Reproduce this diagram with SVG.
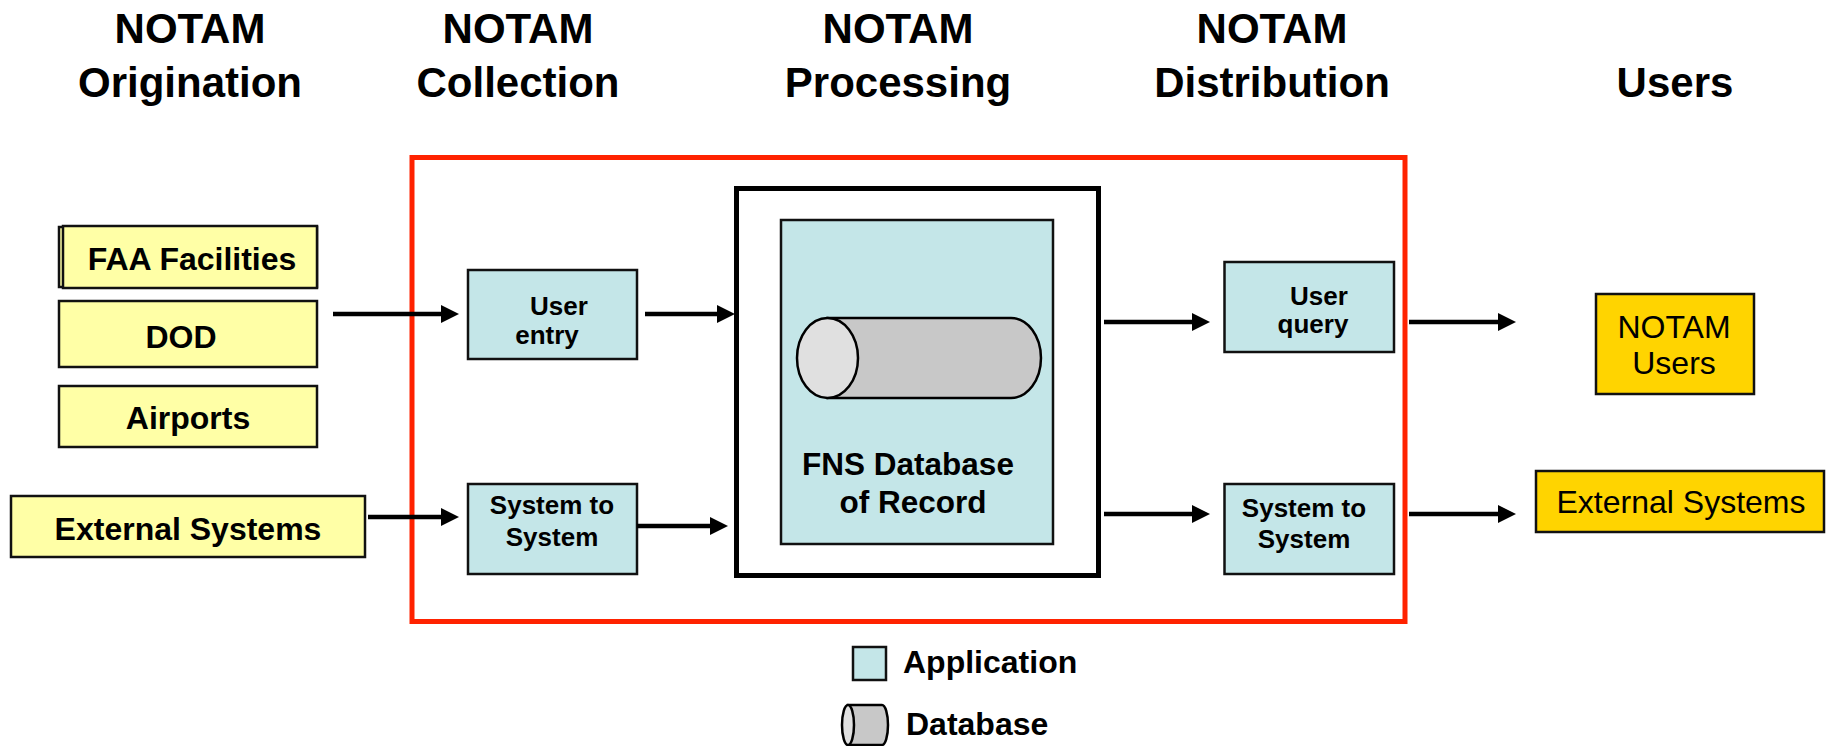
<svg xmlns="http://www.w3.org/2000/svg" width="1826" height="746" viewBox="0 0 1826 746">
<style>
text{font-family:"Liberation Sans",Arial,sans-serif;fill:#000}
.hdr{font-size:42px;font-weight:bold;text-anchor:middle}
.org{font-size:32px;font-weight:bold;text-anchor:middle}
.fns{font-size:31.5px;font-weight:bold;text-anchor:middle}
.app{font-size:26px;font-weight:bold;text-anchor:middle}
.usr{font-size:32px;text-anchor:middle}
.leg{font-size:32px;font-weight:bold}
.ybox{fill:#FFFFA6;stroke:#111;stroke-width:2.5}
.gbox{fill:#FFD400;stroke:#111;stroke-width:2.5}
.cbox{fill:#C4E6E8;stroke:#111;stroke-width:2.5}
.conn line{stroke:#000;stroke-width:4.5;marker-end:url(#ah)}
</style>
<defs>
<marker id="ah" markerUnits="userSpaceOnUse" markerWidth="18" markerHeight="18" refX="8" refY="9" orient="auto">
<path d="M0,0 L18,9 L0,18 Z" fill="#000"/>
</marker>
</defs>
<rect width="1826" height="746" fill="#fff"/>
<g id="headers">
<text class="hdr" x="190" y="43">NOTAM</text>
<text class="hdr" x="190" y="97">Origination</text>
<text class="hdr" x="518" y="43">NOTAM</text>
<text class="hdr" x="518" y="97">Collection</text>
<text class="hdr" x="898" y="43">NOTAM</text>
<text class="hdr" x="898" y="97">Processing</text>
<text class="hdr" x="1272" y="43">NOTAM</text>
<text class="hdr" x="1272" y="97">Distribution</text>
<text class="hdr" x="1675" y="97">Users</text>
</g>
<g id="fns-boundary">
<rect x="412" y="157.5" width="993" height="464" fill="none" stroke="#FF2200" stroke-width="5"/>
</g>
<g id="faa-facilities">
<rect class="ybox" x="59" y="227" width="258" height="60"/>
<rect class="ybox" x="63" y="226" width="254" height="62"/>
<text class="org" x="192" y="270">FAA Facilities</text>
</g>
<g id="dod">
<rect class="ybox" x="59" y="301" width="258" height="66"/>
<text class="org" x="181" y="348">DOD</text>
</g>
<g id="airports">
<rect class="ybox" x="59" y="386" width="258" height="61"/>
<text class="org" x="188" y="429">Airports</text>
</g>
<g id="external-systems-in">
<rect class="ybox" x="11" y="496" width="354" height="61"/>
<text class="org" x="188" y="540">External Systems</text>
</g>
<g id="user-entry">
<rect class="cbox" x="468" y="270" width="169" height="89"/>
<text class="app" x="559" y="315">User</text>
<text class="app" x="547" y="344">entry</text>
</g>
<g id="system-to-system-in">
<rect class="cbox" x="468" y="484" width="169" height="90"/>
<text class="app" x="552" y="514">System to</text>
<text class="app" x="552" y="546">System</text>
</g>
<g id="fns-database">
<rect x="736.5" y="188.5" width="362" height="387" fill="#fff" stroke="#000" stroke-width="5"/>
<rect class="cbox" x="781" y="220" width="272" height="324"/>
<path d="M827.5,318 L1011,318 A30,40 0 0 1 1011,398 L827.5,398 Z" fill="#C8C8C8" stroke="#000" stroke-width="2.5"/>
<ellipse cx="827.5" cy="358" rx="30.5" ry="40" fill="#E0E0E0" stroke="#000" stroke-width="2.5"/>
<text class="fns" x="908" y="475">FNS Database</text>
<text class="fns" x="913" y="513">of Record</text>
</g>
<g id="user-query">
<rect class="cbox" x="1224.5" y="262" width="169.5" height="90"/>
<text class="app" x="1319" y="305">User</text>
<text class="app" x="1313" y="333">query</text>
</g>
<g id="system-to-system-out">
<rect class="cbox" x="1224.5" y="484" width="169.5" height="90"/>
<text class="app" x="1304" y="517">System to</text>
<text class="app" x="1304" y="548">System</text>
</g>
<g id="notam-users">
<rect class="gbox" x="1596" y="294" width="158" height="100"/>
<text class="usr" x="1674" y="338">NOTAM</text>
<text class="usr" x="1674" y="374">Users</text>
</g>
<g id="external-systems-out">
<rect class="gbox" x="1536" y="471" width="288" height="61"/>
<text class="usr" x="1681" y="513">External Systems</text>
</g>
<g id="legend">
<rect class="cbox" x="853" y="647" width="33" height="33"/>
<text class="leg" x="903" y="673">Application</text>
<path d="M848,705 L882,705 A6,20 0 0 1 882,745 L848,745 Z" fill="#C8C8C8" stroke="#000" stroke-width="2.5"/>
<ellipse cx="848" cy="725" rx="6" ry="20" fill="#E0E0E0" stroke="#000" stroke-width="2.5"/>
<text class="leg" x="906" y="735">Database</text>
</g>
<g id="connectors" class="conn">
<line x1="333" y1="314" x2="449" y2="314"/>
<line x1="368" y1="517" x2="449" y2="517"/>
<line x1="645" y1="314" x2="725" y2="314"/>
<line x1="637" y1="526" x2="718" y2="526"/>
<line x1="1104" y1="322" x2="1200" y2="322"/>
<line x1="1104" y1="514" x2="1200" y2="514"/>
<line x1="1409" y1="322" x2="1506" y2="322"/>
<line x1="1409" y1="514" x2="1506" y2="514"/>
</g>
</svg>
